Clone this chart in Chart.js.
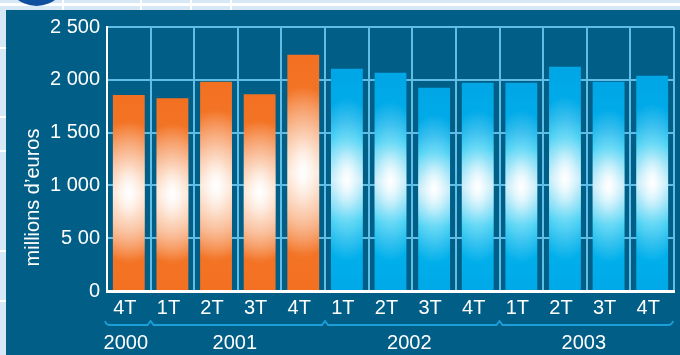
<!DOCTYPE html>
<html><head><meta charset="utf-8">
<script src="https://cdn.jsdelivr.net/npm/chart.js@4"></script>
<style>html,body{margin:0;padding:0;background:#d6e7f5;overflow:hidden}#wrap{width:680px;height:355px;position:relative}canvas{display:block}</style>
</head><body><div id="wrap"><canvas id="c" width="680" height="355"></canvas></div>
<script>
const quarters = ['4T','1T','2T','3T','4T','1T','2T','3T','4T','1T','2T','3T','4T'];
const years = [2000,2001,2001,2001,2001,2002,2002,2002,2002,2003,2003,2003,2003];
const values = [1855,1826,1981,1864,2237,2104,2066,1924,1971,1971,2123,1981,2038];
const yTickValues = [0,500,1000,1500,2000,2500];
const yTickLabels = ['0','5 00','1 000','1 500','2 000','2 500'];
const yTitle = "millions d\u2019euros";
const orangeYears = [2000,2001];

const FONT = 'Liberation Sans, Arial, sans-serif';

function barFill(c){
  const chart = c.chart;
  if (!chart.chartArea || c.type !== 'data' || !chart.scales.y) return '#f37021';
  const ys = chart.scales.y;
  const top = ys.getPixelForValue(c.parsed.y);
  const base = ys.getPixelForValue(0);
  const g = chart.ctx.createLinearGradient(0, top, 0, base);
  if (orangeYears.includes(years[c.dataIndex])) {
    g.addColorStop(0, '#f37021');
    g.addColorStop(0.14, '#f37324');
    g.addColorStop(0.3, '#f6955a');
    g.addColorStop(0.5, '#fcd6ba');
    g.addColorStop(0.7, '#f79e68');
    g.addColorStop(0.84, '#f37324');
    g.addColorStop(1, '#f37021');
  } else {
    g.addColorStop(0, '#00a6e6');
    g.addColorStop(0.24, '#00adea');
    g.addColorStop(0.32, '#00bff0');
    g.addColorStop(0.5, '#9adef6');
    g.addColorStop(0.68, '#00bff0');
    g.addColorStop(0.76, '#00b3ec');
    g.addColorStop(1, '#00a8e8');
  }
  return g;
}

const glowPlugin = {
  id: 'glow',
  afterDatasetsDraw(chart){
    const ctx = chart.ctx;
    const meta = chart.getDatasetMeta(0);
    meta.data.forEach(el => {
      const p = el.getProps(['x','y','base','width'], true);
      const left = p.x - p.width/2, h = p.base - p.y;
      const mid = (p.y + p.base) / 2;
      const rx = p.width * 1.15, ry = h * 0.37;
      ctx.save();
      ctx.beginPath();
      ctx.rect(left, p.y, p.width, h);
      ctx.clip();
      ctx.translate(p.x, mid);
      ctx.scale(1, ry / rx);
      const g = ctx.createRadialGradient(0, 0, 0, 0, 0, rx);
      g.addColorStop(0, 'rgba(255,255,255,1)');
      g.addColorStop(0.1, 'rgba(255,255,255,0.9)');
      g.addColorStop(0.4, 'rgba(255,255,255,0.5)');
      g.addColorStop(1, 'rgba(255,255,255,0)');
      ctx.fillStyle = g;
      ctx.fillRect(-rx, -rx, rx*2, rx*2);
      ctx.restore();
    });
  }
};

const bgPlugin = {
  id: 'bg',
  beforeDraw(chart){
    const ctx = chart.ctx;
    ctx.save();
    ctx.fillStyle = '#d6e7f5';
    ctx.fillRect(0,0,chart.width,chart.height);
    ctx.fillStyle = '#ffffff';
    ctx.fillRect(0,3,chart.width,3);
    [62,140,190,230].forEach(x=>ctx.fillRect(x,0,2,10));
    [47,116,150,250,300].forEach(y=>ctx.fillRect(0,y,6,2));
    ctx.fillStyle = '#0f4fa0';
    ctx.beginPath(); ctx.arc(36.5,-25.5,31.5,0,Math.PI*2); ctx.fill();
    ctx.fillStyle = '#005e87';
    ctx.fillRect(6,10,chart.width-6,chart.height-10);
    ctx.restore();
  }
};

const annoPlugin = {
  id: 'anno',
  afterDraw(chart){
    const ctx = chart.ctx, xs = chart.scales.x, ca = chart.chartArea, n = quarters.length;
    const edge = i => i <= 0 ? ca.left : (i >= n ? ca.right : (xs.getPixelForValue(i-1) + xs.getPixelForValue(i)) / 2);
    const groups = [];
    years.forEach((y,i)=>{
      if (!groups.length || groups[groups.length-1].year !== y) groups.push({year:y, start:i, end:i});
      else groups[groups.length-1].end = i;
    });
    const yl = 325;
    ctx.save();
    ctx.strokeStyle = '#1c9fd8';
    ctx.lineWidth = 1.8;
    ctx.beginPath();
    const L = edge(0) - 2, R = edge(n) - 1;
    ctx.moveTo(L, yl-4);
    ctx.quadraticCurveTo(L+1, yl, L+5, yl);
    groups.slice(1).forEach(g=>{
      const bx = edge(g.start);
      ctx.lineTo(bx-3, yl);
      ctx.lineTo(bx, yl-4);
      ctx.lineTo(bx+3, yl);
    });
    ctx.lineTo(R-5, yl);
    ctx.quadraticCurveTo(R-1, yl, R, yl-4);
    ctx.stroke();
    ctx.fillStyle = '#ffffff';
    ctx.font = '20px ' + FONT;
    ctx.textAlign = 'center';
    ctx.textBaseline = 'middle';
    groups.forEach(g=>{
      const cx = (edge(g.start) + edge(g.end+1)) / 2 - 3;
      ctx.fillText(String(g.year), cx, 343);
    });
    ctx.translate(39, 197.5);
    ctx.rotate(-Math.PI/2);
    ctx.textBaseline = 'alphabetic';
    ctx.fillText(yTitle, 0, 0);
    ctx.restore();
  }
};

new Chart(document.getElementById('c'), {
  type: 'bar',
  data: {
    labels: quarters,
    datasets: [{
      data: values,
      backgroundColor: barFill,
      borderWidth: 0,
      categoryPercentage: 1,
      barPercentage: 0.73
    }]
  },
  options: {
    responsive: false,
    animation: false,
    devicePixelRatio: 1,
    layout: { padding: { left: 0, right: 6, top: 27, bottom: 0 } },
    plugins: { legend: { display: false }, tooltip: { enabled: false } },
    scales: {
      x: {
        grid: { color: '#5fbde6', lineWidth: 2, drawTicks: false, offset: true },
        border: { color: '#ffffff', width: 3 },
        ticks: { color: '#ffffff', font: { family: FONT, size: 20 }, padding: 5, labelOffset: -4, maxRotation: 0, autoSkip: false },
        afterFit(s){ s.height = 64; }
      },
      y: {
        min: 0, max: 2500,
        afterBuildTicks(s){ s.ticks = yTickValues.map(v => ({ value: v })); },
        grid: { color: '#5fbde6', lineWidth: 2, drawTicks: false },
        border: { color: '#ffffff', width: 2 },
        ticks: {
          color: '#ffffff', font: { family: FONT, size: 20 }, padding: 7,
          callback: v => yTickLabels[yTickValues.indexOf(v)]
        },
        afterFit(s){ s.width = 107; }
      }
    }
  },
  plugins: [bgPlugin, glowPlugin, annoPlugin]
});
</script>
</body></html>
